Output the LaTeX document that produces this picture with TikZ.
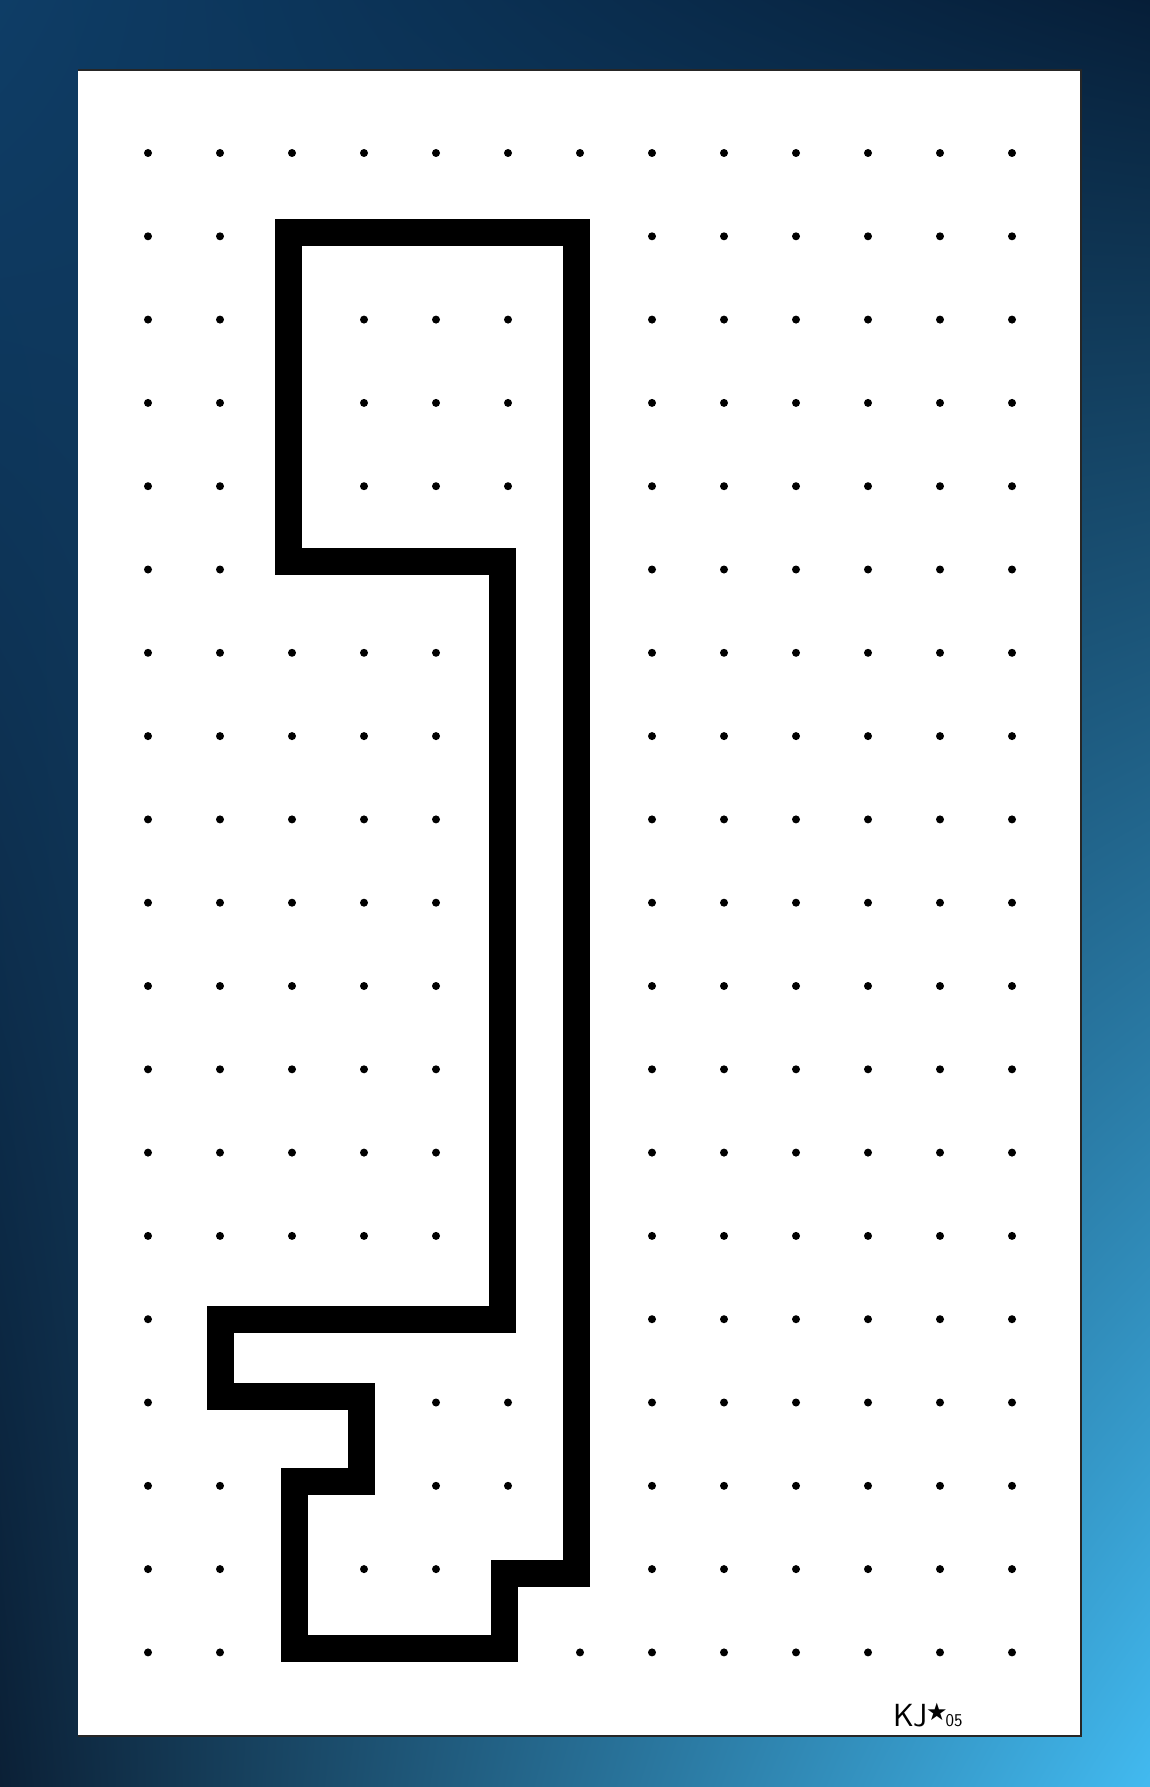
\documentclass[tikz,border=0pt]{standalone}
\usepackage{fontspec}
\newfontfamily\starfont{DejaVu Sans}
\usetikzlibrary{positioning, shadings}

\definecolor{frameUL}{HTML}{0E3D66}
\definecolor{frameUR}{HTML}{061E38}
\definecolor{frameLL}{HTML}{0B2036}
\definecolor{frameLR}{HTML}{42BAF0}

\tikzset{
  keyline/.style={line width=27pt, line join=miter, black},
  griddot/.style={black},
  paperedge/.style={black!85, line width=2pt},
}

\begin{document}
\begin{tikzpicture}[x=1pt, y=-1pt]
  \useasboundingbox (0,0) rectangle (1150,1787);
  % blue frame
  \shade[upper left=frameUL, upper right=frameUR,
         lower left=frameLL, lower right=frameLR] (0,0) rectangle (1150,1787);
  % paper sheet
  \fill[white] (78,70) rectangle (1081,1736);
  \draw[paperedge] (78,70) -- (1081,70) -- (1081,1736) -- (78,1736);
  % dot grid and key outline
  \begin{scope}[shift={(148,153)}, x=72pt, y=-83.3pt]
    \foreach \i in {0,...,12}
      \foreach \j in {0,...,18}
        \fill[griddot] (\i,\j) circle[radius=4pt];
    \draw[keyline] (1.95,0.95) -- (5.95,0.95) -- (5.95,17.05) -- (4.95,17.05)
      -- (4.95,17.95) -- (2.03,17.95) -- (2.03,15.95) -- (2.97,15.95)
      -- (2.97,14.93) -- (1,14.93) -- (1,14) -- (4.93,14)
      -- (4.93,4.9) -- (1.95,4.9) -- cycle;
  \end{scope}
  % signature
  \node[anchor=base west, inner sep=0pt, font=\sffamily\fontsize{32}{32}\selectfont] (sig) at (893,1726)
    {K\kern-1pt J\kern-1pt\raisebox{6pt}{\starfont\fontsize{24}{24}\selectfont ★}\kern-2pt\fontsize{18}{18}\selectfont 05};
\end{tikzpicture}
\end{document}
